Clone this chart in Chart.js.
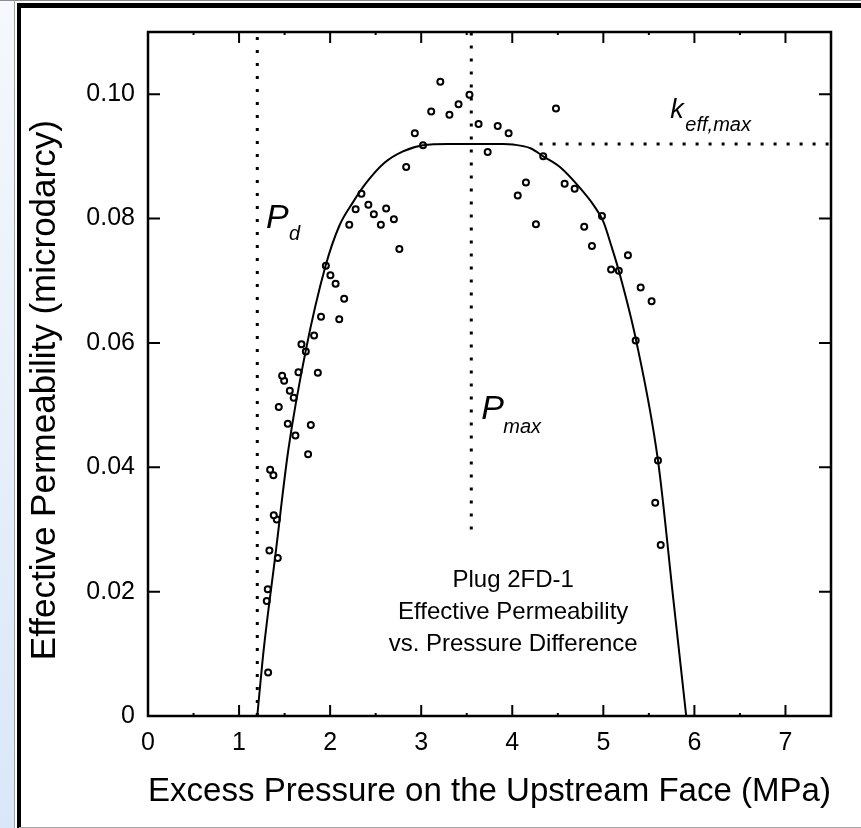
<!DOCTYPE html>
<html>
<head>
<meta charset="utf-8">
<title>Plug 2FD-1 Effective Permeability</title>
<script src="https://cdn.jsdelivr.net/npm/chart.js@4.4.1/dist/chart.umd.min.js"></script>
<style>
	html, body { margin: 0; padding: 0; background: #fff; }
	#wrapper { position: relative; width: 861px; height: 828px; overflow: hidden; background: #fff; }
	.frame__strip { position: absolute; left: 0; top: 0; width: 14px; height: 828px; background: linear-gradient(#f5f8fc, #d9e7f8); }
	.frame__strip-edge { position: absolute; left: 14px; top: 0; width: 1px; height: 828px; background: #a0a0a0; }
	.frame__top-line { position: absolute; left: 0; top: 0; width: 861px; height: 1px; background: #8c8c8c; }
	.frame__top { position: absolute; left: 17px; top: 3px; width: 844px; height: 5px; background: #000; }
	.frame__left { position: absolute; left: 17px; top: 3px; width: 4px; height: 825px; background: #000; }
	.frame__bottom { position: absolute; left: 19px; top: 827px; width: 842px; height: 1px; background: #a8a8a8; }
	#chart { position: absolute; left: 0; top: 0; }
</style>
</head>
<body>
<div id="wrapper">
	<div class="frame__strip"></div>
	<div class="frame__strip-edge"></div>
	<div class="frame__top-line"></div>
	<div class="frame__top"></div>
	<div class="frame__left"></div>
	<div class="frame__bottom"></div>
	<canvas id="chart" width="861" height="828"></canvas>
</div>
<script>
// measured points (MPa, microdarcy)
const pointsX = [1.319, 1.304, 1.315, 1.425, 1.333, 1.414, 1.381, 1.377, 1.341, 1.758,
	1.619, 1.788, 1.535, 1.436, 1.600, 1.557, 1.495, 1.473, 1.865, 1.652,
	1.733, 1.685, 1.824, 2.100, 1.900, 2.154, 2.060, 2.003, 1.953, 2.760,
	2.210, 2.557, 2.700, 2.480, 2.280, 2.615, 2.420, 2.344, 2.835, 3.020,
	2.930, 3.110, 3.310, 3.410, 3.530, 3.210, 3.630, 3.730, 3.840, 3.960,
	4.060, 4.150, 4.260, 4.340, 4.480, 4.575, 4.685, 4.790, 4.875, 4.985,
	5.085, 5.170, 5.270, 5.355, 5.410, 5.530, 5.570, 5.600, 5.630];
const pointsY = [0.0070, 0.0185, 0.0204, 0.0254, 0.0266, 0.0316, 0.0323, 0.0387, 0.0396, 0.0421,
	0.0451, 0.0468, 0.0470, 0.0497, 0.0512, 0.0523, 0.0539, 0.0547, 0.0552, 0.0553,
	0.0586, 0.0598, 0.0612, 0.0638, 0.0642, 0.0671, 0.0695, 0.0709, 0.0724, 0.0751,
	0.0790, 0.0790, 0.0799, 0.0807, 0.0815, 0.0816, 0.0822, 0.0840, 0.0883, 0.0918,
	0.0937, 0.0972, 0.0967, 0.0984, 0.0999, 0.1020, 0.0952, 0.0907, 0.0949, 0.0937,
	0.0837, 0.0858, 0.0791, 0.0900, 0.0977, 0.0856, 0.0848, 0.0787, 0.0756, 0.0804,
	0.0718, 0.0716, 0.0741, 0.0604, 0.0689, 0.0667, 0.0343, 0.0411, 0.0275];

// fitted curve
const curveX = [1.20, 1.27, 1.40, 1.54, 1.73, 1.95, 2.10, 2.25, 2.40, 2.60, 2.80, 3.02, 3.30,
	3.60, 3.90, 4.01, 4.20, 4.34, 4.53, 4.75, 4.90, 5.00, 5.09, 5.17, 5.36, 5.60, 5.77, 5.91];
const curveY = [0, 0.0106, 0.0260, 0.0427, 0.0586, 0.0724, 0.0788, 0.0826, 0.0858, 0.0890, 0.0908, 0.0918, 0.0920,
	0.0920, 0.0920, 0.0919, 0.0913, 0.0900, 0.0882, 0.0848, 0.0820, 0.0795, 0.0755, 0.0716, 0.0604, 0.0411, 0.0186, 0];

// dotted reference lines
const pdX = [1.2, 1.2];
const pdY = [0, 0.11];
const pmaxX = [3.55, 3.55];
const pmaxY = [0.030, 0.11];
const keffX = [4.3, 7.5];
const keffY = [0.092, 0.092];

const xTicks = [0, 1, 2, 3, 4, 5, 6, 7];
const xMinorTicks = [0.5, 1.5, 2.5, 3.5, 4.5, 5.5, 6.5];
const yTicks = [0, 0.02, 0.04, 0.06, 0.08, 0.10];

const yTitle = 'Effective Permeability (microdarcy)';
const noteLines = ['Plug 2FD-1', 'Effective Permeability', 'vs. Pressure Difference'];

const FONT = "'Liberation Sans', Arial, sans-serif";

function toXY(xs, ys) {
	return xs.map(function(x, i) { return {x: x, y: ys[i]}; });
}

function dottedLine(xs, ys) {
	return {
		data: toXY(xs, ys),
		showLine: true,
		borderColor: '#000',
		borderWidth: 3,
		borderDash: [3, 10],
		borderCapStyle: 'butt',
		pointRadius: 0,
		fill: false
	};
}

// frame box, inward ticks, y title and the text labels inside the plot
const framePlugin = {
	id: 'framePlugin',
	afterDatasetsDraw: function(chart) {
		const ctx = chart.ctx;
		const area = chart.chartArea;
		const xs = chart.scales.x;
		const ys = chart.scales.y;

		ctx.save();
		ctx.strokeStyle = '#000';
		ctx.lineWidth = 2.5;
		ctx.strokeRect(area.left, area.top, area.right - area.left, area.bottom - area.top);

		ctx.lineWidth = 2;
		ctx.beginPath();
		xTicks.forEach(function(v) {
			const px = xs.getPixelForValue(v);
			ctx.moveTo(px, area.bottom); ctx.lineTo(px, area.bottom - 11);
			ctx.moveTo(px, area.top); ctx.lineTo(px, area.top + 11);
		});
		xMinorTicks.forEach(function(v) {
			const px = xs.getPixelForValue(v);
			ctx.moveTo(px, area.bottom); ctx.lineTo(px, area.bottom - 3);
			ctx.moveTo(px, area.top); ctx.lineTo(px, area.top + 3);
		});
		yTicks.forEach(function(v) {
			const py = ys.getPixelForValue(v);
			ctx.moveTo(area.left, py); ctx.lineTo(area.left + 12, py);
			ctx.moveTo(area.right, py); ctx.lineTo(area.right - 12, py);
		});
		ctx.stroke();

		ctx.fillStyle = '#000';

		// y title sits a little below the axis middle in the original
		ctx.save();
		ctx.translate(45, ys.getPixelForValue(0.0524));
		ctx.rotate(-Math.PI / 2);
		ctx.textAlign = 'center';
		ctx.textBaseline = 'middle';
		ctx.font = '35px ' + FONT;
		ctx.fillText(yTitle, 0, 0);
		ctx.restore();

		ctx.textBaseline = 'alphabetic';
		ctx.textAlign = 'left';

		// P_d
		let px = xs.getPixelForValue(1.297);
		let py = ys.getPixelForValue(0.0785);
		ctx.font = 'italic 34px ' + FONT;
		ctx.fillText('P', px, py);
		ctx.font = 'italic 20px ' + FONT;
		ctx.fillText('d', px + 23, py + 12);

		// P_max
		px = xs.getPixelForValue(3.66);
		py = ys.getPixelForValue(0.0478);
		ctx.font = 'italic 34px ' + FONT;
		ctx.fillText('P', px, py);
		ctx.font = 'italic 20px ' + FONT;
		ctx.fillText('max', px + 22, py + 14);

		// k_eff,max
		px = xs.getPixelForValue(5.736);
		py = ys.getPixelForValue(0.0961);
		ctx.font = 'italic 27px ' + FONT;
		ctx.fillText('k', px, py);
		ctx.font = 'italic 20px ' + FONT;
		ctx.fillText('eff,max', px + 15, py + 13);

		// caption
		ctx.font = '24px ' + FONT;
		ctx.textAlign = 'center';
		px = xs.getPixelForValue(4.01);
		py = ys.getPixelForValue(0.0207);
		noteLines.forEach(function(line, i) {
			ctx.fillText(line, px, py + i * 32);
		});
		ctx.restore();
	}
};

function drawChart() {
	const ctx = document.getElementById('chart').getContext('2d');

	new Chart(ctx, {
		type: 'scatter',
		data: {
			datasets: [
				dottedLine(pdX, pdY),
				dottedLine(pmaxX, pmaxY),
				dottedLine(keffX, keffY),
				{
					data: toXY(curveX, curveY),
					showLine: true,
					borderColor: '#000',
					borderWidth: 2,
					cubicInterpolationMode: 'monotone',
					pointRadius: 0,
					fill: false
				},
				{
					data: toXY(pointsX, pointsY),
					showLine: false,
					pointRadius: 3,
					pointBorderWidth: 2,
					pointBorderColor: '#000',
					pointBackgroundColor: '#fff'
				}
			]
		},
		options: {
			responsive: false,
			animation: false,
			events: [],
			layout: { padding: { left: 0, right: 30, top: 32, bottom: 0 } },
			plugins: {
				legend: { display: false },
				tooltip: { enabled: false }
			},
			scales: {
				x: {
					type: 'linear',
					min: 0,
					max: 7.5,
					afterBuildTicks: function(scale) {
						scale.ticks = xTicks.map(function(v) { return {value: v}; });
					},
					afterFit: function(scale) { scale.height = 112; },
					grid: { display: false, drawTicks: false },
					border: { display: false },
					ticks: {
						color: '#000',
						padding: 12,
						maxRotation: 0,
						font: { family: FONT, size: 25 }
					},
					title: {
						display: true,
						text: 'Excess Pressure on the Upstream Face (MPa)',
						color: '#000',
						font: { family: FONT, size: 34 },
						padding: { top: 0, bottom: 16 }
					}
				},
				y: {
					type: 'linear',
					min: 0,
					max: 0.11,
					afterBuildTicks: function(scale) {
						scale.ticks = yTicks.map(function(v) { return {value: v}; });
					},
					afterFit: function(scale) { scale.width = 148; },
					grid: { display: false, drawTicks: false },
					border: { display: false },
					ticks: {
						color: '#000',
						padding: 13,
						font: { family: FONT, size: 25 },
						callback: function(v) { return v === 0 ? '0' : v.toFixed(2); }
					}
				}
			}
		},
		plugins: [framePlugin]
	});
}

document.addEventListener('DOMContentLoaded', drawChart);
</script>
</body>
</html>
